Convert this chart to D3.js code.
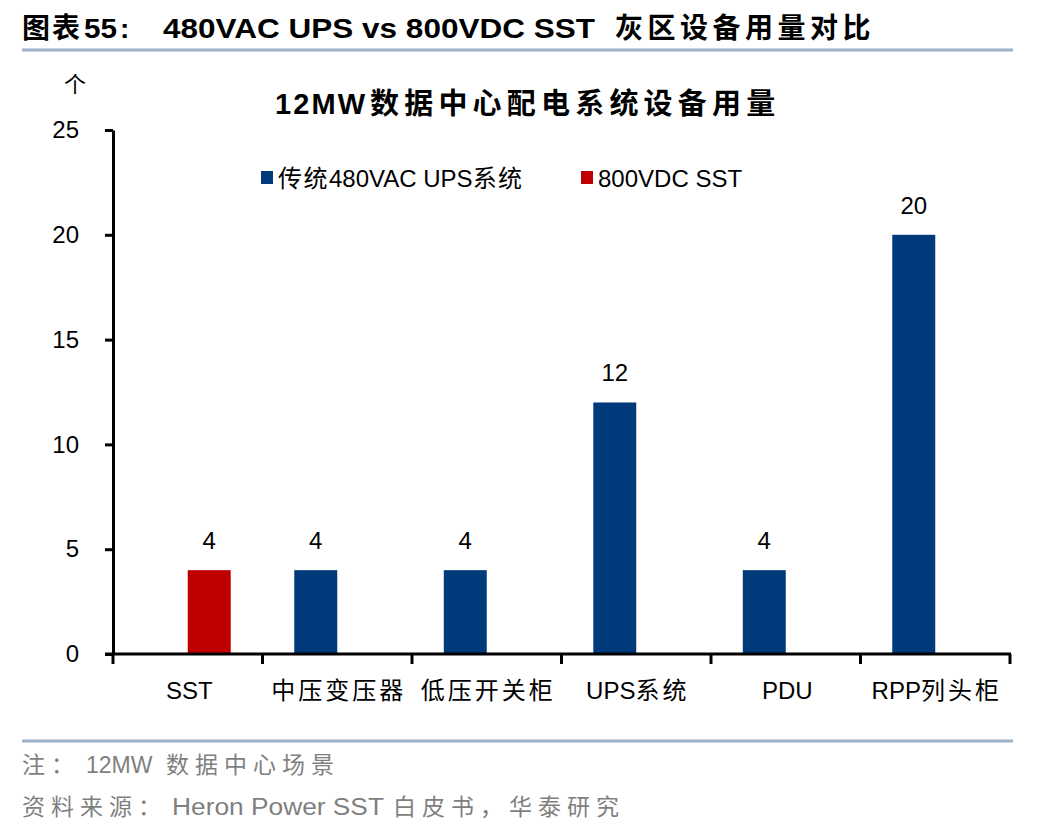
<!DOCTYPE html>
<html><head><meta charset="utf-8">
<script src="https://cdn.jsdelivr.net/npm/d3@7"></script>
<style>
body{margin:0;background:#fff;}
text{font-family:"Liberation Sans","Noto Sans CJK SC",sans-serif;}
</style></head>
<body><svg id="c" width="1048" height="832"></svg>
<script>
const categories = ["SST","中压变压器","低压开关柜","UPS系统","PDU","RPP列头柜"];
const seriesNames = ["传统480VAC UPS系统","800VDC SST"];
const upsValues = [null,4,4,12,4,20];
const sstValues = [4,null,null,null,null,null];
const yTicks = [0,5,10,15,20,25];
const colors = ["#003A7A","#C00000"];

const svg = d3.select("#c");
const ml=113, mr=1010, mt=130, mb=654;

const isCJK = ch => /[\u3000-\u9fff\uff00-\uffef]/.test(ch);
function addRuns(textSel, str, ls){
  const runs=[]; let cur="", curC=null;
  for(const ch of str){
    const c=isCJK(ch);
    if(curC===null||c===curC){cur+=ch;curC=c;}
    else{runs.push([cur,curC]);cur=ch;curC=c;}
  }
  if(cur) runs.push([cur,curC]);
  runs.forEach(([t,c])=>{
    const sp=textSel.append("tspan").text(t);
    if(c) sp.attr("letter-spacing",ls);
  });
  return textSel;
}

// heading
const hd = svg.append("g").attr("font-size",28).attr("font-weight","bold").attr("fill","#000");
hd.append("text").attr("x",22).attr("y",38).attr("letter-spacing",2).text("图表");
hd.append("text").attr("x",84).attr("y",38).attr("textLength",33).attr("lengthAdjust","spacingAndGlyphs").text("55");
hd.append("text").attr("x",120).attr("y",38).text(":");
hd.append("text").attr("x",163).attr("y",38).attr("textLength",432).attr("lengthAdjust","spacingAndGlyphs")
  .text("480VAC UPS vs 800VDC SST");
hd.append("text").attr("x",615).attr("y",38).attr("letter-spacing",4.5).text("灰区设备用量对比");
svg.append("line").attr("x1",22).attr("x2",1013).attr("y1",50).attr("y2",50)
  .attr("stroke","#9DB2CB").attr("stroke-width",3);

// unit
svg.append("text").attr("x",75).attr("y",92).attr("text-anchor","middle")
  .attr("font-size",22).text("个");

// chart title
svg.append("text").attr("x",275).attr("y",114).attr("font-size",29).attr("font-weight","bold")
  .attr("textLength",90).attr("lengthAdjust","spacing").text("12MW");
svg.append("text").attr("x",370).attr("y",114).attr("font-size",29).attr("font-weight","bold")
  .attr("letter-spacing",5.2).text("数据中心配电系统设备用量");

const x = d3.scaleBand().domain(categories).range([ml,mr]).padding(0);
const xs = d3.scaleBand().domain(seriesNames).range([0,x.bandwidth()]).paddingInner(0).paddingOuter(0.74);
const y = d3.scaleLinear().domain([0,25]).range([mb,mt]);

const series = [upsValues, sstValues];
series.forEach((vals,si)=>{
  const g = svg.append("g");
  categories.forEach((c,i)=>{
    const v = vals[i];
    if(v==null) return;
    const bx = x(c)+xs(seriesNames[si]);
    g.append("rect").attr("x",bx).attr("y",y(v)).attr("width",xs.bandwidth())
      .attr("height",y(0)-y(v)).attr("fill",colors[si]);
    g.append("text").attr("x",bx+xs.bandwidth()/2).attr("y",y(v)-21)
      .attr("text-anchor","middle").attr("font-size",24).text(v);
  });
});

// y axis
const ya = svg.append("g").attr("transform",`translate(${ml},0)`)
  .call(d3.axisLeft(y).tickValues(yTicks).tickSize(8).tickPadding(26).tickSizeOuter(0));
ya.select(".domain").attr("stroke","#000").attr("stroke-width",3);
ya.selectAll(".tick line").attr("stroke","#000").attr("stroke-width",3);
ya.selectAll(".tick text").attr("font-size",24).attr("fill","#000")
  .style("font-family","'Liberation Sans',sans-serif");

// x axis
svg.append("line").attr("x1",ml-8).attr("x2",mr+1).attr("y1",y(0)).attr("y2",y(0))
  .attr("stroke","#000").attr("stroke-width",3);
const edges = categories.map(c=>x(c)).concat([x.range()[1]]);
svg.selectAll(".xt").data(edges).enter().append("line")
  .attr("x1",d=>d).attr("x2",d=>d).attr("y1",y(0)).attr("y2",y(0)+10)
  .attr("stroke","#000").attr("stroke-width",3);
svg.selectAll(".xl").data(categories).enter().append("text")
  .attr("x",d=>x(d)+x.bandwidth()/2+1.5).attr("y",699).attr("text-anchor","middle")
  .attr("font-size",24).each(function(d){ addRuns(d3.select(this), d, 3); });

// legend
const leg = [{x:261,t:seriesNames[0],c:colors[0]},{x:581,t:seriesNames[1],c:colors[1]}];
leg.forEach(l=>{
  svg.append("rect").attr("x",l.x).attr("y",171).attr("width",12).attr("height",13).attr("fill",l.c);
  addRuns(svg.append("text").attr("x",l.x+17).attr("y",187).attr("font-size",24), l.t, 1.5);
});

// footer
svg.append("line").attr("x1",22).attr("x2",1013).attr("y1",741).attr("y2",741)
  .attr("stroke","#9DB2CB").attr("stroke-width",3);
const fg = svg.append("g").attr("font-size",23).attr("fill","#7F7F7F");
fg.append("text").attr("x",22).attr("y",773).attr("letter-spacing",6).text("注：");
fg.append("text").attr("x",86).attr("y",773).text("12MW");
fg.append("text").attr("x",166).attr("y",773).attr("letter-spacing",6).text("数据中心场景");
fg.append("text").attr("x",22).attr("y",815).attr("letter-spacing",6).text("资料来源：");
fg.append("text").attr("x",172).attr("y",815).attr("textLength",212).attr("lengthAdjust","spacingAndGlyphs").text("Heron Power SST");
fg.append("text").attr("x",393).attr("y",815).attr("letter-spacing",6).text("白皮书，华泰研究");
</script></body></html>
